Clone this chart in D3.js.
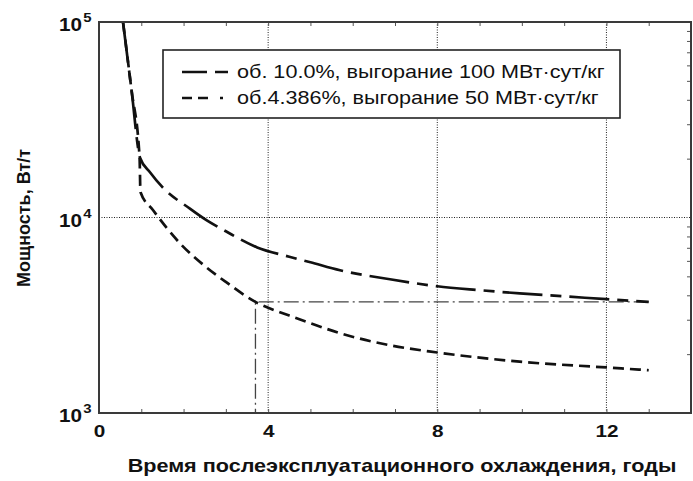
<!DOCTYPE html>
<html><head><meta charset="utf-8">
<script src="https://cdn.jsdelivr.net/npm/d3@7"></script>
<style>body{margin:0;background:#fff}svg{display:block}text{font-family:"Liberation Sans",Arial,sans-serif;fill:#111}</style>
</head><body><svg id="c" width="693" height="481"></svg>
<script>
// Data
const yearsA = [0.57,0.77,0.97,1.21,1.5,2.15,2.55,3,3.74,4.5,5,5.7,6.88,8,9,9.95,11,12,13];
const powerA = [99000,44700,20200,17000,14300,11100,9660,8500,7030,6300,5900,5370,4830,4450,4250,4090,3950,3820,3700];
const yearsB = [0.57,0.77,0.96,0.98,1.28,1.92,2.5,3,3.7,4.5,5,5.7,6.88,8,9.95,12,13];
const powerB = [99000,44700,20200,13500,10900,7360,5650,4680,3700,3150,2880,2560,2220,2040,1830,1710,1655];
const refYears = [3.7,13];
const refPower = 3700;
const xTicks = [0,4,8,12];
const yTicks = [1e3,1e4,1e5];
const yTickExp = ["3","4","5"];
const seriesLabels = ["об. 10.0%, выгорание 100 МВт·сут/кг","об.4.386%, выгорание 50 МВт·сут/кг"];
const xTitle = "Время послеэксплуатационного охлаждения, годы";
const yTitle = "Мощность, Вт/т";

const svg = d3.select("#c");
const L=99,R=691,T=22,B=413;
const x = d3.scaleLinear().domain([0,14]).range([L,R]);
const y = d3.scaleLog().domain([1e3,1e5]).range([B,T]);

// grid
const g = svg.append("g");
g.selectAll(".gx").data(xTicks.filter(d=>d>0)).join("line")
 .attr("x1",d=>x(d)).attr("x2",d=>x(d)).attr("y1",T).attr("y2",B)
 .attr("stroke","#222").attr("stroke-width",1).attr("stroke-dasharray","1,1.5");
g.selectAll(".gy").data([1e4]).join("line")
 .attr("y1",d=>y(d)).attr("y2",d=>y(d)).attr("x1",L).attr("x2",R)
 .attr("stroke","#222").attr("stroke-width",1).attr("stroke-dasharray","1,1.5");

// minor ticks
const minorX = d3.range(1,14);
svg.append("g").attr("transform",`translate(0,${B})`)
 .call(d3.axisBottom(x).tickValues(minorX).tickSize(-4).tickFormat(""))
 .call(s=>{s.select(".domain").remove();s.selectAll("line").attr("stroke","#555");});
svg.append("g").attr("transform",`translate(0,${T})`)
 .call(d3.axisTop(x).tickValues(minorX).tickSize(-4).tickFormat(""))
 .call(s=>{s.select(".domain").remove();s.selectAll("line").attr("stroke","#555");});
const minorY = [2e3,3e3,4e3,5e3,6e3,7e3,8e3,9e3,2e4,3e4,4e4,5e4,6e4,7e4,8e4,9e4];
svg.append("g").attr("transform",`translate(${R},0)`)
 .call(d3.axisRight(y).tickValues(minorY).tickSize(-4).tickFormat(""))
 .call(s=>{s.select(".domain").remove();s.selectAll("line").attr("stroke","#555");});

// reference dash-dot lines
svg.append("path")
 .attr("d", d3.line()([[x(refYears[1]),y(refPower)],[x(refYears[0]),y(refPower)],[x(refYears[0]),y(1e3)]]))
 .attr("fill","none").attr("stroke","#444").attr("stroke-width",1.3).attr("stroke-dasharray","15,4,2,4");

// curves
const line = d3.line().x(d=>x(d[0])).y(d=>y(d[1])).curve(d3.curveMonotoneX);
svg.append("path").datum(yearsA.map((v,i)=>[v,powerA[i]])).attr("d",line)
 .attr("fill","none").attr("stroke","#111").attr("stroke-width",2.7).attr("stroke-dasharray","40,8,11,8");
svg.append("path").datum(yearsB.map((v,i)=>[v,powerB[i]])).attr("d",line)
 .attr("fill","none").attr("stroke","#111").attr("stroke-width",2.7).attr("stroke-dasharray","11,6");

// frame
svg.append("rect").attr("x",L).attr("y",T).attr("width",R-L).attr("height",B-T)
 .attr("fill","none").attr("stroke","#3a3a3a").attr("stroke-width",2);

// x tick labels
svg.append("g").attr("transform",`translate(0,${B})`)
 .call(d3.axisBottom(x).tickValues(xTicks).tickSize(0).tickPadding(0).tickFormat(d3.format("d")))
 .call(s=>{s.select(".domain").remove();
   s.selectAll("text").attr("y",0).attr("dy",null).text(null)
    .each(function(d){d3.select(this).append("tspan").text(d);})
    .attr("transform","translate(0,24) scale(1.22,1)")
    .style("font-size","17px").style("font-weight","bold").style("fill","#111").style("font-family","Liberation Sans, Arial, sans-serif");});

// y tick labels
const yl = svg.append("g");
yTicks.forEach((t,i)=>{
  const gy = yl.append("g").attr("transform",`translate(82,${y(t)+9}) scale(1.15,1)`);
  gy.append("text").attr("text-anchor","end").style("font-size","18px").style("font-weight","bold").text("10");
  gy.append("text").attr("x",1).attr("y",-9).style("font-size","13px").style("font-weight","bold").text(yTickExp[i]);
});

// axis titles
svg.append("text").attr("transform",`translate(402,472) scale(1.2,1)`).attr("text-anchor","middle")
 .style("font-size","18px").style("font-weight","bold").text(xTitle);
svg.append("text").attr("transform","translate(30,218) rotate(-90)").attr("text-anchor","middle")
 .style("font-size","18px").style("font-weight","bold").text(yTitle);

// legend
const lg = svg.append("g");
lg.append("rect").attr("x",163).attr("y",50).attr("width",457).attr("height",68)
 .attr("fill","#fff").attr("stroke","#222").attr("stroke-width",1.6);
const dashes = ["25,8,13,100","10,6,10,12,3,100"];
const rowsY = [72,98];
seriesLabels.forEach((s,i)=>{
  lg.append("line").attr("x1",182).attr("x2",228).attr("y1",rowsY[i]).attr("y2",rowsY[i])
    .attr("stroke","#111").attr("stroke-width",2.4).attr("stroke-dasharray",dashes[i]);
  lg.append("text").attr("transform",`translate(237,${rowsY[i]+6}) scale(1.2,1)`)
    .style("font-size","18px").text(s);
});
</script></body></html>
